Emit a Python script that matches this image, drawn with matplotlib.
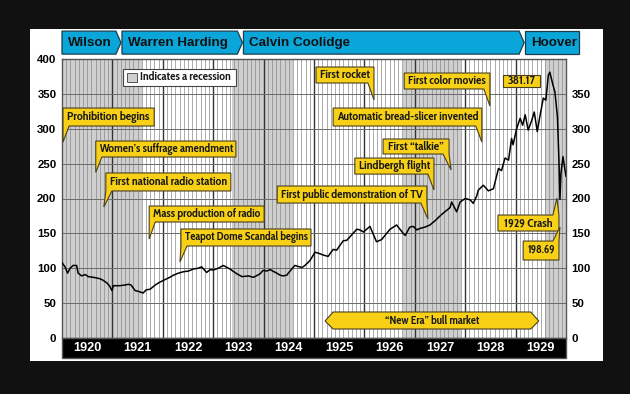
import matplotlib

matplotlib.use("Agg")

import matplotlib.pyplot as plt  # noqa: E402
from matplotlib import font_manager  # noqa: E402
from matplotlib.patches import Polygon, Rectangle  # noqa: E402

# Dow Jones Industrial Average (decimal year, index level)
DATES = [
    1920.00, 1920.06, 1920.11, 1920.16, 1920.22, 1920.29, 1920.32, 1920.39, 1920.46, 1920.52,
    1920.62, 1920.69, 1920.75, 1920.81, 1920.89, 1920.95, 1920.99, 1921.02, 1921.15, 1921.25,
    1921.32, 1921.37, 1921.45, 1921.51, 1921.61, 1921.67, 1921.75, 1921.85, 1921.94, 1922.08,
    1922.14, 1922.21, 1922.31, 1922.41, 1922.51, 1922.61, 1922.70, 1922.77, 1922.87, 1922.94,
    1923.00, 1923.10, 1923.20, 1923.33, 1923.47, 1923.57, 1923.70, 1923.80, 1923.93, 1923.99,
    1924.06, 1924.13, 1924.26, 1924.33, 1924.38, 1924.46, 1924.49, 1924.62, 1924.76, 1924.82,
    1924.92, 1925.02, 1925.11, 1925.18, 1925.28, 1925.38, 1925.45, 1925.58, 1925.65, 1925.85,
    1925.91, 1925.98, 1926.11, 1926.24, 1926.34, 1926.51, 1926.64, 1926.77, 1926.81, 1926.90,
    1926.97, 1927.04, 1927.10, 1927.20, 1927.30, 1927.40, 1927.53, 1927.70, 1927.73, 1927.83,
    1927.90, 1928.00, 1928.10, 1928.16, 1928.23, 1928.26, 1928.36, 1928.46, 1928.56, 1928.66,
    1928.72, 1928.79, 1928.86, 1928.92, 1928.95, 1929.02, 1929.09, 1929.14, 1929.19, 1929.25,
    1929.32, 1929.37, 1929.43, 1929.48, 1929.55, 1929.60, 1929.65, 1929.68, 1929.74, 1929.78,
    1929.83, 1929.86, 1929.88, 1929.90, 1929.94, 1929.98, 1930.00,
]
DJIA = [
    108, 102, 93, 100, 104, 104, 93, 89, 91, 88,
    87, 86, 85, 83, 79, 74, 68, 75, 75, 76,
    77, 76, 68, 67, 64.5, 69, 70, 76, 80, 85,
    87, 90, 93, 95, 96, 99, 100, 102, 94, 98,
    97.5, 100, 104, 99, 92, 88, 89, 87, 92, 97,
    96, 98, 93, 90, 89, 90, 93, 104, 101, 104,
    111, 123, 121, 119, 117, 127, 126, 139.5, 140, 156,
    155, 152, 160, 138, 141, 156, 162, 150, 147, 159,
    160, 155, 157, 159, 162, 168, 177, 187, 195, 181,
    195, 200, 198, 193, 204, 212, 219, 211, 214, 243,
    240, 258, 255, 286, 277, 300, 315, 305, 320, 298,
    312, 324, 296, 317, 344, 341, 377, 381.17, 363, 353,
    317, 255, 198.69, 236, 260, 241, 232,
]

YEARS = list(range(1920, 1930))
RECESSIONS = [(1920.0, 1921.58), (1923.38, 1924.58), (1926.77, 1927.92), (1929.58, 1930.0)]

PRESIDENTS = ["Wilson", "Warren Harding", "Calvin Coolidge", "Hoover"]
TERM_STARTS = [1920.0, 1921.19, 1923.60, 1929.19]
TERM_ENDS = [1921.17, 1923.58, 1929.17, 1930.26]

EVENTS = [
    "Prohibition begins",
    "Women\u2019s suffrage amendment",
    "First national radio station",
    "Mass production of radio",
    "Teapot Dome Scandal begins",
    "First public demonstration of TV",
    "Lindbergh flight",
    "First \u201ctalkie\u201d",
    "Automatic bread-slicer invented",
    "First color movies",
    "First rocket",
    "1929 Crash",
    "198.69",
    "381.17",
]

YELLOW = "#f8d117"
EDGE = "#4a4020"
BLUE = "#0aa6da"

installed = {f.name for f in font_manager.fontManager.ttflist}


def pick(candidates):
    for name in candidates:
        if name in installed:
            return [name, "DejaVu Sans"]
    return ["DejaVu Sans"]


FONT = pick(["Cabin Condensed", "PT Sans Narrow", "Fira Sans Condensed", "Asap Condensed",
             "Archivo Narrow", "Roboto Condensed", "Liberation Sans Narrow"])
BOLD = ["Liberation Sans", "DejaVu Sans"]

fitted = []


def callout(ax, text, box, tip=None, side="bl"):
    x0, x1, y0, y1 = box
    w = 0.12
    if tip is None:
        pts = [(x0, y1), (x1, y1), (x1, y0), (x0, y0)]
    elif side == "bl":
        pts = [(x0, y1), (x1, y1), (x1, y0), (x0 + w, y0), tip, (x0, y0)]
    elif side == "br":
        pts = [(x0, y1), (x1, y1), (x1, y0), tip, (x1 - w, y0), (x0, y0)]
    else:
        pts = [(x0, y1), (x1 - w, y1), tip, (x1, y1), (x1, y0), (x0, y0)]
    ax.add_patch(Polygon(pts, closed=True, facecolor=YELLOW, edgecolor=EDGE,
                         linewidth=0.8, clip_on=False, zorder=6))
    label = ax.text((x0 + x1) / 2, (y0 + y1) / 2, text, ha="center", va="center",
                    fontsize=8, fontweight="bold", family=FONT, color="#1a1a1a",
                    zorder=7, clip_on=False)
    fitted.append((label, x1 - x0))


fig = plt.figure(figsize=(6.3, 3.94), dpi=100, facecolor="#111111")
panel = fig.add_axes([30 / 630, 1 - 361 / 394, 573 / 630, 332 / 394], zorder=-5)
panel.set_facecolor("white")
panel.set_xticks([])
panel.set_yticks([])
for spine in panel.spines.values():
    spine.set_visible(False)

ax = fig.add_axes([62 / 630, 1 - 338 / 394, 504 / 630, 279 / 394])
ax.set_xlim(1920, 1930)
ax.set_ylim(0, 400)
ax.set_facecolor("white")

for start, end in RECESSIONS:
    ax.axvspan(start, end, color="#cfcfcf", linewidth=0, zorder=0)

for year in YEARS:
    for month in range(1, 12):
        ax.axvline(year + month / 12, color="#8a8a8a", linewidth=0.5, zorder=1)
    if year > 1920:
        ax.axvline(year, color="#333333", linewidth=1.0, zorder=1)
for level in range(50, 400, 50):
    ax.axhline(level, color="#6a6a6a", linewidth=0.7, zorder=1)

ax.plot(DATES, DJIA, color="black", linewidth=1.1, zorder=4)

ax.set_xticks([])
ax.set_yticks(range(0, 401, 50))
ax.tick_params(axis="y", length=0, pad=4)
for label in ax.get_yticklabels():
    label.set_fontweight("bold")
    label.set_fontsize(8.2)
    label.set_family(BOLD)
for spine in ax.spines.values():
    spine.set_color("#555555")
    spine.set_linewidth(1.0)

right = ax.twinx()
right.set_ylim(0, 400)
right.set_yticks(range(0, 351, 50))
right.tick_params(axis="y", length=0, pad=4)
for label in right.get_yticklabels():
    label.set_fontweight("bold")
    label.set_fontsize(8.2)
    label.set_family(BOLD)
for spine in right.spines.values():
    spine.set_visible(False)

# year strip under the plot
ax.add_patch(Rectangle((1920, -28.7), 10, 28.7, facecolor="black", edgecolor="#555555",
                       linewidth=1.0, clip_on=False, zorder=5))
for year in YEARS:
    ax.text(year + 0.5, -14.3, str(year), ha="center", va="center", color="white",
            fontsize=9.2, fontweight="bold", family=BOLD, clip_on=False, zorder=6)

# presidents strip above the plot
for name, start, end in zip(PRESIDENTS, TERM_STARTS, TERM_ENDS):
    lo, hi, mid = 407, 440, 423.5
    if name == "Hoover":
        pts = [(start, lo), (end, lo), (end, hi), (start, hi)]
    else:
        pts = [(start, lo), (end - 0.1, lo), (end, mid), (end - 0.1, hi), (start, hi)]
    ax.add_patch(Polygon(pts, closed=True, facecolor=BLUE, edgecolor="#1c3c4c",
                         linewidth=0.9, clip_on=False, zorder=5))
    ax.text(start + 0.12, mid, name, ha="left", va="center", fontsize=9.6,
            fontweight="bold", family=BOLD, color="#111111", clip_on=False, zorder=6)

# recession key
ax.add_patch(Rectangle((1921.21, 361.3), 2.24, 24.3, facecolor="white", edgecolor="#444444",
                       linewidth=0.8, clip_on=False, zorder=6))
ax.add_patch(Rectangle((1921.29, 366.5), 0.2, 13, facecolor="#cfcfcf", edgecolor="#555555",
                       linewidth=0.7, clip_on=False, zorder=7))
key = ax.text(1921.55, 373.5, "Indicates a recession", ha="left", va="center", fontsize=8,
              fontweight="bold", family=FONT, color="#1a1a1a", zorder=7)
fitted.append((key, 1.96))

callout(ax, EVENTS[0], (1920.02, 1921.83, 303.9, 329.7), (1920.02, 281), "bl")
callout(ax, EVENTS[1], (1920.67, 1923.45, 259.5, 282.4), (1920.67, 237.4), "bl")
callout(ax, EVENTS[2], (1920.87, 1923.35, 210.8, 236.6), (1920.83, 187.8), "bl")
callout(ax, EVENTS[3], (1921.73, 1924.01, 166.3, 189.2), (1921.73, 141.9), "bl")
callout(ax, EVENTS[4], (1922.36, 1924.94, 131.9, 156.3), (1922.34, 109), "bl")
callout(ax, EVENTS[5], (1924.27, 1927.24, 193.5, 217.9), (1927.26, 170.6), "br")
callout(ax, EVENTS[6], (1925.81, 1927.38, 235, 258), (1927.38, 212.2), "br")
callout(ax, EVENTS[7], (1926.37, 1927.68, 263.8, 285.3), (1927.72, 240.9), "br")
callout(ax, EVENTS[8], (1925.38, 1928.33, 303.9, 329.7), (1928.33, 281), "br")
callout(ax, EVENTS[9], (1926.79, 1928.49, 357, 379.9), (1928.49, 332.6), "br")
callout(ax, EVENTS[10], (1925.04, 1926.19, 365.6, 388.5), (1926.19, 341.2), "br")
callout(ax, EVENTS[11], (1928.65, 1929.86, 153.4, 176.3), (1929.82, 200.7), "tr")
callout(ax, EVENTS[12], (1929.15, 1929.86, 111.8, 139), (1929.88, 159), "tr")
callout(ax, EVENTS[13], (1928.75, 1929.48, 359.9, 377))

# "New Era" bull market arrow
bull = [(1925.22, 24.4), (1925.38, 37.3), (1929.30, 37.3), (1929.46, 24.4),
        (1929.30, 12.9), (1925.38, 12.9)]
ax.add_patch(Polygon(bull, closed=True, facecolor=YELLOW, edgecolor=EDGE,
                     linewidth=0.8, zorder=6))
ax.text(1927.34, 24.4, "\u201cNew Era\u201d bull market", ha="center", va="center",
        fontsize=8.2, fontweight="bold", family=FONT, color="#1a1a1a", zorder=7)

# size the condensed labels so each fills its box the way the reference does
fig.canvas.draw()
renderer = fig.canvas.get_renderer()
px_per_year = ax.transData.transform((1921, 0))[0] - ax.transData.transform((1920, 0))[0]
for label, span in fitted:
    room = span * px_per_year - 8
    width = label.get_window_extent(renderer).width
    label.set_fontsize(min(8.8, label.get_fontsize() * room / width))

fig.savefig("out.png", dpi=100, facecolor=fig.get_facecolor())
